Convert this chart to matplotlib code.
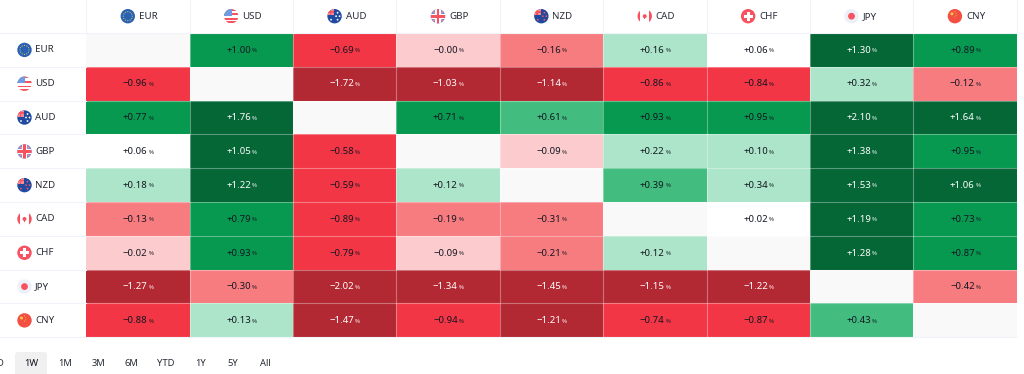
import numpy as np
import matplotlib
matplotlib.use("Agg")
import matplotlib.pyplot as plt
from matplotlib.colors import ListedColormap, BoundaryNorm
from matplotlib.patches import Circle, Rectangle, FancyBboxPatch, Polygon

currencies = ["EUR", "USD", "AUD", "GBP", "NZD", "CAD", "CHF", "JPY", "CNY"]
eur = [np.nan, 1.00, -0.69, -0.004, -0.16, 0.16, 0.06, 1.30, 0.89]
usd = [-0.96, np.nan, -1.72, -1.03, -1.14, -0.86, -0.84, 0.32, -0.12]
aud = [0.77, 1.76, np.nan, 0.71, 0.61, 0.93, 0.95, 2.10, 1.64]
gbp = [0.06, 1.05, -0.58, np.nan, -0.09, 0.22, 0.10, 1.38, 0.95]
nzd = [0.18, 1.22, -0.59, 0.12, np.nan, 0.39, 0.34, 1.53, 1.06]
cad = [-0.13, 0.79, -0.89, -0.19, -0.31, np.nan, 0.02, 1.19, 0.73]
chf = [-0.02, 0.93, -0.79, -0.09, -0.21, 0.12, np.nan, 1.28, 0.87]
jpy = [-1.27, -0.30, -2.02, -1.34, -1.45, -1.15, -1.22, np.nan, -0.42]
cny = [-0.88, 0.13, -1.47, -0.94, -1.21, -0.74, -0.87, 0.43, np.nan]
rows = [eur, usd, aud, gbp, nzd, cad, chf, jpy, cny]
periods = ["1W", "1M", "3M", "6M", "YTD", "1Y", "5Y", "All"]
period_x = [31, 65, 98, 131, 166, 201, 233, 265]

bounds = [-5, -1.0, -0.5, -0.1, 0, 0.1, 0.35, 0.66, 1.001, 5]
palette = ["#B22833", "#F23645", "#F77C80", "#FCCBCD", "#FFFFFF",
           "#ACE5C9", "#42BD7F", "#089950", "#056636"]
LIGHT_TEXT_BINS = (0, 8)

FW, FH = 1024, 374
X0, X1, Y0, Y1 = 86.3, 1016.8, 33.0, 337.3
FONT = "Noto Sans"
INK = "#2A2E39"

fig = plt.figure(figsize=(FW / 100, FH / 100), dpi=100, facecolor="white")
ax = fig.add_axes([X0 / FW, 1 - Y1 / FH, (X1 - X0) / FW, (Y1 - Y0) / FH])
data = np.array(rows, dtype=float)
cmap = ListedColormap(palette)
cmap.set_bad("#F9F9F9")
norm = BoundaryNorm(bounds, cmap.N)
ax.pcolormesh(np.arange(10), np.arange(10), np.ma.masked_invalid(data),
              cmap=cmap, norm=norm, shading="flat")
ax.set_xlim(0, 9)
ax.set_ylim(9, 0)
ax.axis("off")

for k in range(1, 9):
    ax.axvline(k, color="white", alpha=0.35, lw=0.8)
    ax.axhline(k, color="white", alpha=0.35, lw=0.8)

for i, row in enumerate(rows):
    for j, v in enumerate(row):
        if np.isnan(v):
            continue
        b = np.digitize(v, bounds) - 1
        col = "white" if b in LIGHT_TEXT_BINS else "#131722"
        txt = f"{v:+.2f}".replace("-", "\u2212")
        ax.annotate(txt, (j + .5, i + .5), xytext=(6.9, -0.2), textcoords="offset points",
                    ha="right", va="center", fontsize=6.9, family=FONT, color=col)
        ax.annotate("%", (j + .5, i + .5), xytext=(7.5, -0.5), textcoords="offset points",
                    ha="left", va="center", fontsize=4.4, family=FONT, color=col, alpha=.85)

# overlay in pixel coordinates for headers, flags and the period selector
ov = fig.add_axes([0, 0, 1, 1], facecolor="none")
ov.set_xlim(0, FW)
ov.set_ylim(FH, 0)
ov.axis("off")
GRID = "#F0F3FA"
cw = (X1 - X0) / 9
rh = (Y1 - Y0) / 9
for k in range(10):
    ov.plot([X0 + k * cw] * 2, [0, Y0], color=GRID, lw=0.8)
    ov.plot([0, X0], [Y0 + k * rh] * 2, color=GRID, lw=0.8)
ov.plot([X0, X1], [Y1, Y1], color=GRID, lw=0.8, zorder=0)
ov.plot([0, X1], [Y0, Y0], color=GRID, lw=0.8, zorder=0)


def flag(name, cx, cy, r=7.2):
    clip = Circle((cx, cy), r, transform=ov.transData)
    def add(p):
        ov.add_patch(p)
        p.set_clip_path(clip)
    def rect(x, y, w, h, c):
        add(Rectangle((cx + x, cy + y), w, h, fc=c, ec="none"))
    def dot(x, y, s, c):
        add(Circle((cx + x, cy + y), s, fc=c, ec="none"))
    red, navy, white = "#F7525F", "#1F4AA0", "#FFFFFF"
    if name == "EUR":
        rect(-8, -8, 16, 16, "#2962B5")
        for a in np.arange(0, 360, 30):
            dot(4.5 * np.cos(np.radians(a)), 4.5 * np.sin(np.radians(a)), .55, "#F2C94C")
    elif name == "USD":
        rect(-8, -8, 16, 16, "#FFFFFF")
        for y in (-7.4, -2.8, 1.8, 5.2):
            rect(-8, y, 16, 1.9, red)
        rect(-8, -8, 8.5, 7.5, "#6F9BE0")
    elif name in ("AUD", "NZD"):
        rect(-8, -8, 16, 16, navy)
        rect(-8, -8, 7.5, 7, "#F58A94")
        rect(-5, -8, 1.6, 7, red)
        rect(-8, -5.2, 7.5, 1.5, red)
        stars = [(3, -3.5), (-3.5, 3.5), (3, 3.5), (5, 0), (1.5, 0)]
        c = white if name == "AUD" else red
        for x, y in stars:
            dot(x, y, .9, c)
    elif name == "GBP":
        rect(-8, -8, 16, 16, "#6C8FD6")
        add(Polygon([(cx - 8, cy - 7), (cx - 7, cy - 8), (cx + 8, cy + 7), (cx + 7, cy + 8)], fc="#F58A94"))
        add(Polygon([(cx + 8, cy - 7), (cx + 7, cy - 8), (cx - 8, cy + 7), (cx - 7, cy + 8)], fc="#F58A94"))
        rect(-2.6, -8, 5.2, 16, white)
        rect(-8, -2.6, 16, 5.2, white)
        rect(-1.4, -8, 2.8, 16, red)
        rect(-8, -1.4, 16, 2.8, red)
    elif name == "CAD":
        rect(-8, -8, 16, 16, white)
        rect(-8, -8, 3.4, 16, red)
        rect(4.6, -8, 3.4, 16, red)
        dot(0, 0, 2.0, red)
        rect(-.4, 0, .8, 3.2, red)
    elif name == "CHF":
        rect(-8, -8, 16, 16, red)
        rect(-1.6, -4.4, 3.2, 8.8, white)
        rect(-4.4, -1.6, 8.8, 3.2, white)
    elif name == "JPY":
        rect(-8, -8, 16, 16, "#EDF0F8")
        dot(0, 0, 3.4, red)
    elif name == "CNY":
        rect(-8, -8, 16, 16, "#F25042")
        dot(-3, -2.4, 1.5, "#F5C542")
        for x, y in [(0, -4.5), (1.2, -2.6), (1.2, -0.6), (0, 0.8)]:
            dot(x, y, .5, "#F5C542")


for j, name in enumerate(currencies):
    cx = X0 + (j + .5) * cw
    fx = cx - 10.2
    flag(name, fx, 16.2)
    ov.text(fx + 11, 16.2, name, ha="left", va="center", fontsize=7.0, family=FONT, color=INK)
    cy = Y0 + (j + .5) * rh
    flag(name, 24.5, cy)
    ov.text(35, cy, name, ha="left", va="center", fontsize=7.0, family=FONT, color=INK)

ov.add_patch(FancyBboxPatch((15, 352), 32, 24, boxstyle="round,pad=0,rounding_size=3",
                            fc="#F0F0F0", ec="none", mutation_aspect=1))
ov.text(3, 363, "D", ha="right", va="center", fontsize=6.8, family=FONT, color=INK)
for lab, x in zip(periods, period_x):
    ov.text(x, 363, lab, ha="center", va="center", fontsize=6.8, family=FONT, color="#131722" if lab == "1W" else INK,
            fontweight="bold" if lab == "1W" else "normal")

fig.savefig("out.png", dpi=100)
